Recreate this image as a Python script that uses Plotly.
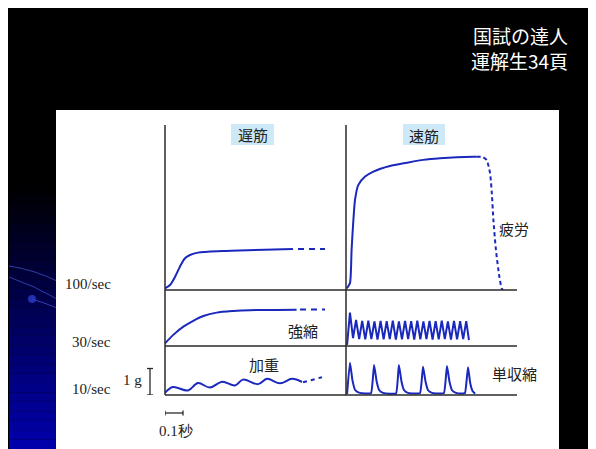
import plotly.graph_objects as go

# page is 596x449; the browser body has an 8px margin, so the figure is 588x441
OFF = 8
W, H = 596 - OFF, 449 - OFF

# ---------------- data (time in s, tension in g) ----------------
# slow muscle, 100/sec (tetanus)
slow100_t = [0, 0.028, 0.056, 0.083, 0.111, 0.139, 0.183, 0.317, 0.50, 0.711]
slow100_g = [0.06, 0.19, 0.50, 0.88, 1.20, 1.32, 1.41, 1.47, 1.51, 1.55]
slow100_dash_t = [0.739, 0.889]
slow100_dash_g = [1.55, 1.55]

# fast muscle, 100/sec (tetanus + fatigue)
fast100_t = [0.004, 0.022, 0.031, 0.041, 0.050, 0.068, 0.106, 0.152, 0.244, 0.337, 0.429, 0.522, 0.707, 0.726]
fast100_g = [0.06, 0.26, 1.51, 2.64, 3.40, 3.96, 4.28, 4.47, 4.68, 4.80, 4.91, 4.97, 5.03, 5.03]
fast100_dash_t = [0.726, 0.760, 0.781, 0.800, 0.810, 0.819, 0.833, 0.852, 0.865, 0.872]
fast100_dash_g = [5.03, 5.02, 4.91, 4.42, 3.66, 2.64, 1.51, 0.50, 0.06, 0.0]

# slow muscle, 30/sec
slow30_t = [0, 0.046, 0.102, 0.157, 0.213, 0.287, 0.380, 0.472, 0.731]
slow30_g = [0.10, 0.42, 0.73, 0.95, 1.13, 1.26, 1.32, 1.35, 1.37]
slow30_dash_t = [0.750, 0.889]
slow30_dash_g = [1.38, 1.38]

# slow muscle, 10/sec (summation)
slow10_t = [0, 0.044, 0.128, 0.183, 0.250, 0.317, 0.389, 0.433, 0.517, 0.567, 0.639, 0.706, 0.761]
slow10_g = [0.08, 0.30, 0.17, 0.45, 0.28, 0.50, 0.36, 0.58, 0.41, 0.61, 0.44, 0.61, 0.49]
slow10_dash_t = [0.767, 0.872]
slow10_dash_g = [0.48, 0.67]

# fast muscle, 30/sec (incomplete tetanus)
fast30_t = [0.006, 0.022, 0.039, 0.056, 0.073, 0.090, 0.107, 0.124, 0.141, 0.158, 0.175, 0.192,
            0.209, 0.226, 0.243, 0.260, 0.277, 0.294, 0.311, 0.328, 0.345, 0.362, 0.379, 0.396,
            0.413, 0.430, 0.447, 0.464, 0.481, 0.498, 0.515, 0.532, 0.549, 0.566, 0.583, 0.600,
            0.617, 0.634, 0.651, 0.668, 0.683]
fast30_g = [0.04, 1.26, 0.30, 0.98, 0.26, 0.95, 0.25, 0.96, 0.26, 0.93, 0.24, 0.95,
            0.25, 0.94, 0.26, 0.96, 0.24, 0.93, 0.25, 0.95, 0.26, 0.94, 0.24, 0.96,
            0.25, 0.93, 0.26, 0.95, 0.24, 0.94, 0.25, 0.96, 0.26, 0.93, 0.24, 0.95,
            0.25, 0.94, 0.26, 0.94, 0.22]

# fast muscle, 10/sec (single twitches)
fast10_t = [0.006, 0.022, 0.036, 0.050, 0.072, 0.111, 0.139, 0.156, 0.170, 0.184, 0.206, 0.244,
            0.278, 0.294, 0.308, 0.322, 0.344, 0.383, 0.411, 0.428, 0.442, 0.456, 0.478, 0.517,
            0.544, 0.561, 0.575, 0.589, 0.611, 0.650, 0.661, 0.678, 0.690, 0.703, 0.717]
fast10_g = [0.04, 1.22, 0.55, 0.20, 0.09, 0.06, 0.07, 1.13, 0.52, 0.19, 0.08, 0.05,
            0.06, 1.13, 0.52, 0.19, 0.08, 0.06, 0.07, 1.07, 0.50, 0.18, 0.08, 0.06,
            0.07, 1.09, 0.50, 0.18, 0.08, 0.06, 0.07, 1.05, 0.45, 0.15, 0.05]

row_labels = ["100/sec", "30/sec", "10/sec"]
col_labels = ["遅筋", "速筋"]

# ---------------- helpers (page pixel -> paper) ----------------
def fx(x):
    return (x - OFF) / W

def fy(y):
    return 1 - (y - OFF) / H

BLUE = "#1a28bc"
AX = "#2a2a2a"
PX_PER_S = 180.0
PX_PER_G = 26.5

fig = go.Figure()

def add(t, g, xa, ya, dash=None, shape="spline", smooth=0.8):
    fig.add_trace(go.Scatter(
        x=t, y=g, xaxis=xa, yaxis=ya, mode="lines",
        line=dict(color=BLUE, width=2, dash=dash, shape=shape,
                  smoothing=smooth if shape == "spline" else None),
        hoverinfo="skip", showlegend=False))

add(slow100_t, slow100_g, "x", "y")
add(slow100_dash_t, slow100_dash_g, "x", "y", dash="6px,5px", shape="linear")
add(fast100_t, fast100_g, "x2", "y", smooth=0.6)
add(fast100_dash_t, fast100_dash_g, "x2", "y", dash="4px,3px", smooth=0.6)
add(slow30_t, slow30_g, "x", "y2")
add(slow30_dash_t, slow30_dash_g, "x", "y2", dash="6px,5px", shape="linear")
add(slow10_t, slow10_g, "x", "y3", smooth=1.0)
add(slow10_dash_t, slow10_dash_g, "x", "y3", dash="4px,4px", shape="linear")
add(fast30_t, fast30_g, "x2", "y2", shape="linear")
add(fast10_t, fast10_g, "x2", "y3", smooth=0.4)

# axes (column/row geometry in page pixels)
c0, c1, c2 = 165, 346, 517
r0, r1, r2, r3 = 125, 290, 346, 395
ax_common = dict(visible=False, fixedrange=True)
fig.update_layout(
    xaxis=dict(domain=[fx(c0), fx(c1)], range=[0, (c1 - c0) / PX_PER_S], anchor="y3", **ax_common),
    xaxis2=dict(domain=[fx(c1), fx(c2)], range=[0, (c2 - c1) / PX_PER_S], anchor="y3", **ax_common),
    yaxis=dict(domain=[fy(r1), fy(r0)], range=[0, (r1 - r0) / PX_PER_G], anchor="x", **ax_common),
    yaxis2=dict(domain=[fy(r2), fy(r1)], range=[0, (r2 - r1) / PX_PER_G], anchor="x", **ax_common),
    yaxis3=dict(domain=[fy(r3), fy(r2)], range=[0, (r3 - r2) / PX_PER_G], anchor="x", **ax_common),
)

shapes = []
# blue gradient band at left
n = 28
y_start, y_end = 185, 449
for i in range(n):
    ya = y_start + (y_end - y_start) * i / n
    yb = y_start + (y_end - y_start) * (i + 1) / n
    b = int(175 * (i + 0.5) / n)
    shapes.append(dict(type="rect", xref="paper", yref="paper", x0=fx(9), x1=fx(57),
                       y0=fy(yb), y1=fy(ya), fillcolor=f"rgb(0,0,{b})", line=dict(width=0),
                       layer="below"))
# decorative swooshes
for path in [
    f"M {fx(9)},{fy(266)} Q {fx(35)},{fy(270)} {fx(57)},{fy(281)}",
    f"M {fx(9)},{fy(277)} Q {fx(35)},{fy(286)} {fx(57)},{fy(299)}",
    f"M {fx(32)},{fy(299)} Q {fx(45)},{fy(303)} {fx(57)},{fy(308)}",
]:
    shapes.append(dict(type="path", xref="paper", yref="paper", path=path,
                       line=dict(color="rgba(90,110,255,0.55)", width=1), layer="below"))
shapes.append(dict(type="circle", xref="paper", yref="paper", x0=fx(28), x1=fx(36),
                   y0=fy(303), y1=fy(295), fillcolor="rgba(40,60,200,0.8)",
                   line=dict(width=0), layer="below"))
# white figure panel
shapes.append(dict(type="rect", xref="paper", yref="paper", x0=fx(56), x1=fx(559),
                   y0=0, y1=fy(110), fillcolor="white", line=dict(width=0), layer="below"))
# label boxes
for (xa, xb) in [(231, 274), (403, 445)]:
    shapes.append(dict(type="rect", xref="paper", yref="paper", x0=fx(xa), x1=fx(xb),
                       y0=fy(145), y1=fy(124), fillcolor="#cde8f6", line=dict(width=0),
                       layer="below"))
# frame lines
for xv in [c0, c1]:
    shapes.append(dict(type="line", xref="paper", yref="paper", x0=fx(xv), x1=fx(xv),
                       y0=fy(r3), y1=fy(r0), line=dict(color=AX, width=1.5)))
for yv in [r1, r2, r3]:
    shapes.append(dict(type="line", xref="paper", yref="paper", x0=fx(c0), x1=fx(c2),
                       y0=fy(yv), y1=fy(yv), line=dict(color=AX, width=1.5)))
# 1 g scale bracket
shapes.append(dict(type="line", xref="paper", yref="y3", x0=fx(150), x1=fx(150), y0=0, y1=1,
                   line=dict(color=AX, width=1.3)))
for yv in [0, 1]:
    shapes.append(dict(type="line", xref="paper", yref="y3", x0=fx(147), x1=fx(153), y0=yv, y1=yv,
                       line=dict(color=AX, width=1.3)))
# 0.1 s scale bar
shapes.append(dict(type="line", xref="x", yref="paper", x0=0, x1=0.1, y0=fy(413), y1=fy(413),
                   line=dict(color=AX, width=1.3)))
for xv in [0, 0.1]:
    shapes.append(dict(type="line", xref="x", yref="paper", x0=xv, x1=xv, y0=fy(410.5), y1=fy(415.5),
                       line=dict(color=AX, width=1.3)))

ann = []
def text(x, y, s, size=15, color="#222", family="Noto Sans CJK JP", xanchor="center", align="center"):
    ann.append(dict(x=fx(x), y=fy(y), xref="paper", yref="paper", text=s, showarrow=False,
                    xanchor=xanchor, yanchor="middle", align=align,
                    font=dict(size=size, color=color, family=family)))

SERIF = "Liberation Serif, Times New Roman, serif"
text(113, 284, row_labels[0], family=SERIF, xanchor="right")
text(113, 342, row_labels[1], family=SERIF, xanchor="right")
text(113, 389, row_labels[2], family=SERIF, xanchor="right")
text(132, 380, "1 g", family=SERIF)
text(176, 431, "0.1秒", size=15, family=SERIF)
text(252.5, 134.5, col_labels[0], size=15)
text(424, 135.5, col_labels[1], size=15)
text(514, 228, "疲労", size=15)
text(303, 330, "強縮", size=15)
text(264, 364, "加重", size=15)
text(514, 373, "単収縮", size=15)
text(570, 48.5, "国試の達人<br>運解生34頁", size=19, color="white", xanchor="right", align="right")

fig.update_layout(
    width=W, height=H, autosize=False,
    margin=dict(l=0, r=0, t=0, b=0),
    paper_bgcolor="black", plot_bgcolor="rgba(0,0,0,0)",
    shapes=shapes, annotations=ann, showlegend=False,
)

fig.write_html("out.html")
